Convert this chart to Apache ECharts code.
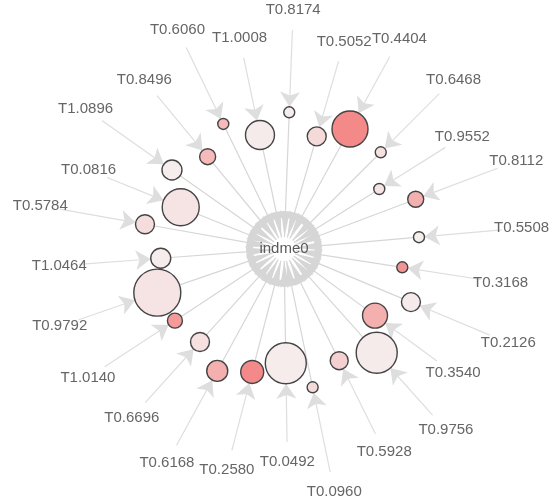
<!DOCTYPE html>
<html><head><meta charset="utf-8">
<script src="https://cdn.jsdelivr.net/npm/echarts@6/dist/echarts.min.js"></script>
<style>html,body{margin:0;padding:0;background:#fff}#c{width:549px;height:503px}</style>
</head><body><div id="c"></div>
<script>
// Hub
const hubName = 'indme0';
// Leaf labels, clockwise from the top
const labels = ['T0.8174','T0.5052','T0.4404','T0.6468','T0.9552','T0.8112','T0.5508','T0.3168','T0.2126','T0.3540','T0.9756','T0.5928','T0.0960','T0.0492','T0.2580','T0.6168','T0.6696','T1.0140','T0.9792','T1.0464','T0.5784','T0.0816','T1.0896','T0.8496','T0.6060','T1.0008'];
// Bearing of each leaf (degrees, clockwise from north)
const bearing = [2.2,16.2,28.8,45,57.8,69.3,85.0,98.8,112.7,126.2,138.2,153.7,168.3,179.1,194.5,208.7,222.1,236.7,251.0,265.7,280.1,292.0,305.2,320.4,334.1,348.1];
// Distance of each leaf node from the hub
const nodeDist = [136.8,117.3,137.0,136.8,112.6,140.8,135.5,119.7,137.6,112.8,139.1,124.6,141.2,114.3,127.0,139.0,125.3,130.5,134.0,123.6,141.2,111.4,137.1,119.8,139.0,116.5];
// Distance of each text tag from the hub
const tagDist = [239.0,215.6,239.6,239.7,210.7,248.3,238.5,219.2,243.1,209.5,242.9,226.2,247.8,212.7,228.1,243.8,227.0,234.6,237.2,225.4,247.6,210.8,242.8,219.1,243.9,215.6];
// Intensity (fill colour) of each leaf, 0..1
const intensity = [0.04,0.2,0.95,0.15,0.12,0.6,0.03,0.85,0.05,0.6,0.05,0.3,0.2,0.04,0.95,0.6,0.15,0.8,0.12,0.04,0.18,0.12,0.03,0.5,0.5,0.05];
// Magnitude (circle size) of each leaf
const magnitude = [11,19,36,11,11,16,11,11,19,25,41,18,11,41,23,21,19,15,47,20,19,37,20,16,11,29];

const lo = [246, 240, 240], hi = [243, 132, 132];
function heatColor(t) {
  const c = lo.map((v, k) => Math.round(v + (hi[k] - v) * t));
  return 'rgb(' + c.join(',') + ')';
}
const textStyle = { color: '#666', fontSize: 15, fontFamily: 'Liberation Sans' };

const nodes = [{
  name: '__ring', value: [0, 0], symbolSize: 69,
  itemStyle: { color: 'rgba(0,0,0,0)', borderColor: '#d6d6d6', borderWidth: 7 },
  label: { show: false }
}, {
  name: hubName, value: [0, 0], symbolSize: 24,
  itemStyle: { color: 'rgba(0,0,0,0)', borderWidth: 0 },
  label: Object.assign({ show: true, position: 'inside' }, textStyle, { color: '#5a5a5a' })
}];
const links = [];
labels.forEach((lab, i) => {
  nodes.push({
    name: 'leaf' + i, value: [nodeDist[i], bearing[i]], symbolSize: magnitude[i],
    itemStyle: { color: heatColor(intensity[i]), borderColor: '#444', borderWidth: 1.4 },
    label: { show: false }
  });
  nodes.push({
    name: lab, value: [tagDist[i], bearing[i]], symbolSize: 40,
    itemStyle: { color: 'rgba(0,0,0,0)', borderWidth: 0 },
    label: Object.assign({ show: true, position: 'inside' }, textStyle)
  });
  links.push({ source: 'leaf' + i, target: hubName, symbol: ['none', 'arrow'], symbolSize: [1, [7, 27]],
               lineStyle: { color: '#d6d6d6' } });
  links.push({ source: lab, target: 'leaf' + i, symbol: ['circle', 'arrow'], symbolSize: [0.01, 15] });
});

const chart = echarts.init(document.getElementById('c'));
chart.setOption({
  animation: false,
  polar: { center: [284, 249], radius: 250 },
  radiusAxis: { min: 0, max: 250, show: false },
  angleAxis: { min: 0, max: 360, startAngle: 90, clockwise: true, show: false },
  series: [{
    type: 'graph', coordinateSystem: 'polar', polarIndex: 0,
    data: nodes, links: links,
    lineStyle: { color: '#dedede', width: 1.2, opacity: 1 },
    emphasis: { disabled: true }
  }]
});
</script></body></html>
